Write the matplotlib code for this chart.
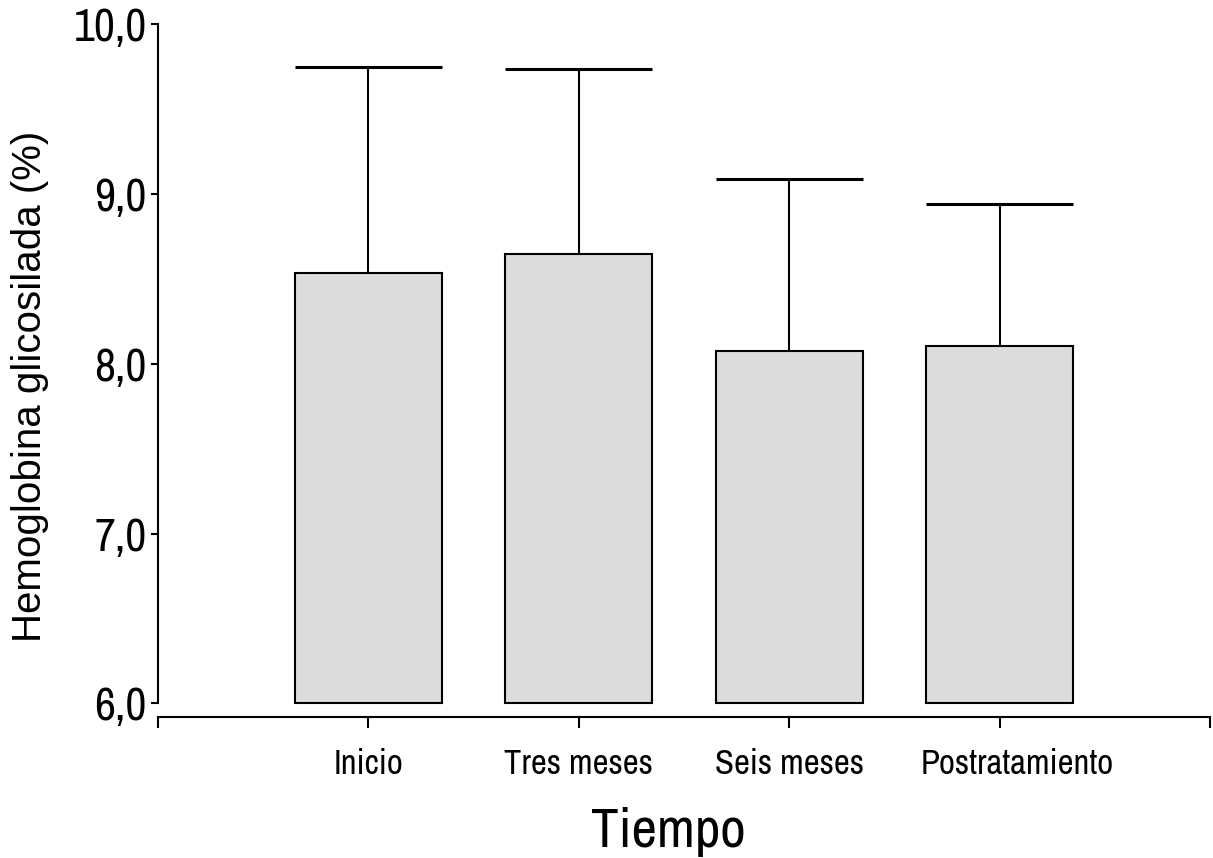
import matplotlib
matplotlib.use("Agg")
import matplotlib.pyplot as plt
import matplotlib.transforms as mtransforms
import numpy as np

# HbA1c over the follow-up (mean and mean + SD)
categories = ["Inicio", "Tres meses", "Seis meses", "Postratamiento"]
means = [8.535, 8.643, 8.075, 8.106]
upper = [9.747, 9.733, 9.086, 8.939]

y_ticks = [6.0, 7.0, 8.0, 9.0, 10.0]

narrow = ["Archivo Narrow", "Roboto Condensed", "Liberation Sans", "DejaVu Sans"]
regular = ["Liberation Sans", "DejaVu Sans"]

fig = plt.figure(figsize=(12.13, 8.58), dpi=100)
ax = fig.add_axes([158 / 1213, 1 - 717 / 858, 1052 / 1213, 693 / 858])

x = np.arange(1, len(categories) + 1)
width = 0.70
base = 6.0

ax.bar(x, np.array(means) - base, bottom=base, width=width,
       color="#dcdcdc", edgecolor="black", linewidth=1.5, zorder=2)
ax.vlines(x, means, upper, color="black", linewidth=1.5, zorder=3)
ax.hlines(upper, x - width / 2, x + width / 2, color="black",
          linewidth=2.2, zorder=3)

ax.set_xlim(0, len(categories) + 1)
ax.set_ylim(5.92, 10.0)

ax.spines["top"].set_visible(False)
ax.spines["right"].set_visible(False)
ax.spines["left"].set_bounds(6.0, 10.0)
ax.spines["left"].set_linewidth(1.5)
ax.spines["bottom"].set_linewidth(1.5)

ax.set_yticks(y_ticks)
ax.set_yticklabels([f"{v:.1f}".replace(".", ",") for v in y_ticks],
                   family=narrow, fontsize=33)
ax.set_xticks(np.arange(0, len(categories) + 2))
xlabels = ax.set_xticklabels([""] + categories + [""], family=narrow, fontsize=25)

ax.tick_params(axis="y", direction="out", length=5, width=1.5, pad=3)
ax.tick_params(axis="x", direction="out", length=8, width=1.5, pad=14)

# the long last label sits a little right of its tick
# (done after tick_params, which resets the label transforms)
last = xlabels[len(categories)]
shift = mtransforms.ScaledTranslation(13 / 72, 0, fig.dpi_scale_trans)
last.set_transform(last.get_transform() + shift)

fig.text(30 / 1213, 1 - 386 / 858, "Hemoglobina glicosilada (%)",
         rotation=90, ha="center", va="center", family=regular, fontsize=29)
fig.text(668 / 1213, 1 - 832 / 858, "Tiempo", ha="center", va="center",
         family=narrow, fontsize=40)

fig.savefig("out.png", dpi=100)
